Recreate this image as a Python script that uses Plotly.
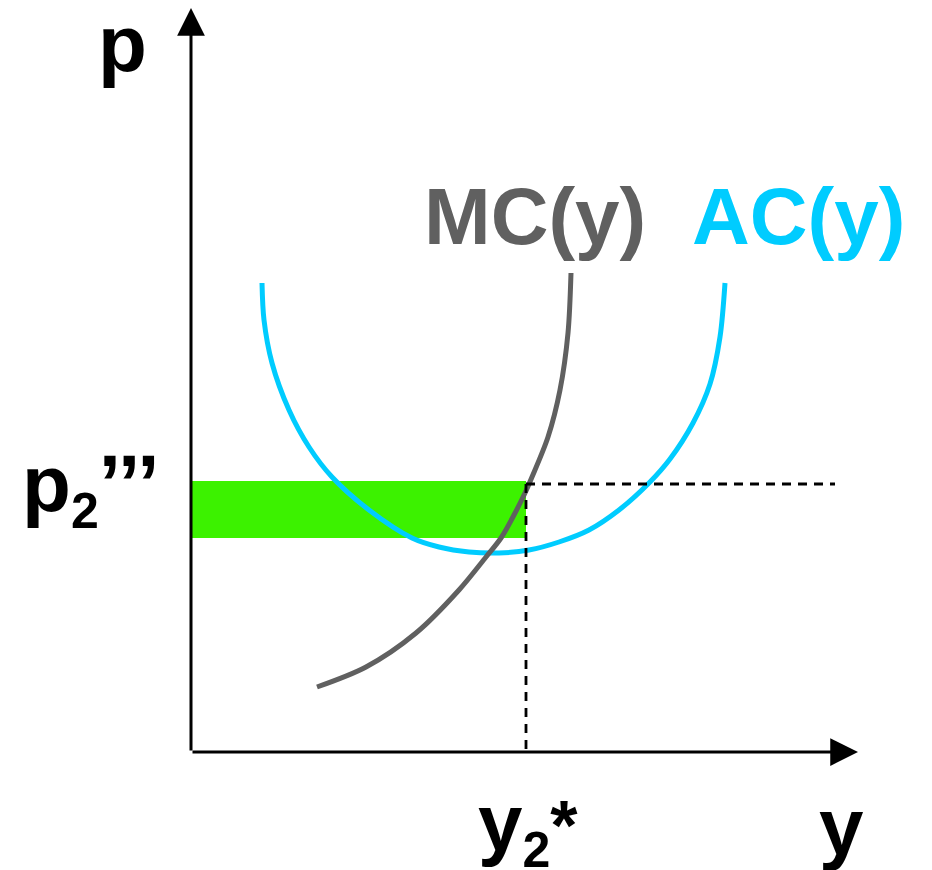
import plotly.graph_objects as go

# quantity / price (1 unit = 100 px)
ac_q = [0.71, 0.73, 0.81, 0.98, 1.18, 1.41, 1.78, 2.21, 2.48, 2.78, 3.08, 3.38, 3.68, 3.98, 4.28, 4.58, 4.79, 5.02, 5.19, 5.29, 5.34]
ac_p = [4.69, 4.32, 3.89, 3.42, 3.05, 2.75, 2.42, 2.14, 2.05, 2.00, 1.99, 2.02, 2.10, 2.22, 2.42, 2.69, 2.93, 3.29, 3.68, 4.15, 4.69]

mc_q = [1.26, 1.75, 2.25, 2.68, 2.95, 3.10, 3.23, 3.34, 3.41, 3.57, 3.69, 3.77, 3.80]
mc_p = [0.65, 0.85, 1.19, 1.62, 1.95, 2.14, 2.37, 2.59, 2.75, 3.15, 3.62, 4.19, 4.79]

y_star = 3.35
p_price = 2.68
rect_top = 2.71
rect_bottom = 2.14
dash_end = 6.44
x_arrow_end = 6.67
y_arrow_end = 7.44

FONT = "Liberation Sans"
GREY = "#606060"
CYAN = "#00ccff"
GREEN = "#3cf200"

fig = go.Figure()

# green rectangle
fig.add_trace(go.Scatter(
    x=[0, y_star, y_star, 0, 0],
    y=[rect_bottom, rect_bottom, rect_top, rect_top, rect_bottom],
    mode='lines', fill='toself', fillcolor=GREEN,
    line=dict(width=0, color=GREEN), hoverinfo='skip'))

# AC curve
fig.add_trace(go.Scatter(x=ac_q, y=ac_p, mode='lines',
                         line=dict(color=CYAN, width=5, shape='spline', smoothing=0.9), hoverinfo='skip'))

# MC curve
fig.add_trace(go.Scatter(x=mc_q, y=mc_p, mode='lines',
                         line=dict(color=GREY, width=5, shape='spline', smoothing=0.9), hoverinfo='skip'))

# dashed guides
fig.add_trace(go.Scatter(x=[y_star, dash_end], y=[p_price, p_price], mode='lines',
                         line=dict(color='black', width=2.8, dash='9px,7px'), hoverinfo='skip'))
fig.add_trace(go.Scatter(x=[y_star, y_star], y=[p_price, 0], mode='lines',
                         line=dict(color='black', width=2.8, dash='9px,7px'), hoverinfo='skip'))

# axes with arrowheads
for tip_x, tip_y in [(x_arrow_end, 0), (0, y_arrow_end)]:
    fig.add_annotation(x=tip_x, y=tip_y, ax=0, ay=0, xref='x', yref='y', axref='x', ayref='y',
                       text='', showarrow=True, arrowhead=2, arrowwidth=3, arrowsize=1.85,
                       arrowcolor='black')

SUB2 = '<sub><span style="font-size:50px">2</span></sub>'
labels = [
    dict(text='p', x=-0.69, y=7.09, color='black', xanchor='center'),
    dict(text='p' + SUB2 + '’’’', x=-1.71, y=2.63, color='black', xanchor='left'),
    dict(text='MC(y)', x=3.44, y=5.36, color=GREY, xanchor='center'),
    dict(text='AC(y)', x=6.07, y=5.36, color=CYAN, xanchor='center'),
    dict(text='y' + SUB2 + '<span style="font-size:70px">*</span>', x=2.85, y=-0.76,
         color='black', xanchor='left'),
    dict(text='y', x=6.50, y=-0.74, color='black', xanchor='center'),
]
for lab in labels:
    fig.add_annotation(x=lab['x'], y=lab['y'], xref='x', yref='y', text=lab['text'],
                       showarrow=False, xanchor=lab['xanchor'], yanchor='middle',
                       font=dict(family=FONT, size=80, color=lab['color'], weight='bold'))

# the page body adds an 8px offset, so the ranges are shifted to compensate
fig.update_xaxes(range=[-1.83, 7.49], visible=False, fixedrange=True)
fig.update_yaxes(range=[-1.26, 7.44], visible=False, fixedrange=True)
fig.update_layout(
    width=932, height=870,
    margin=dict(l=0, r=0, t=0, b=0),
    plot_bgcolor='white', paper_bgcolor='white',
    showlegend=False,
)

fig.write_html("out.html")
